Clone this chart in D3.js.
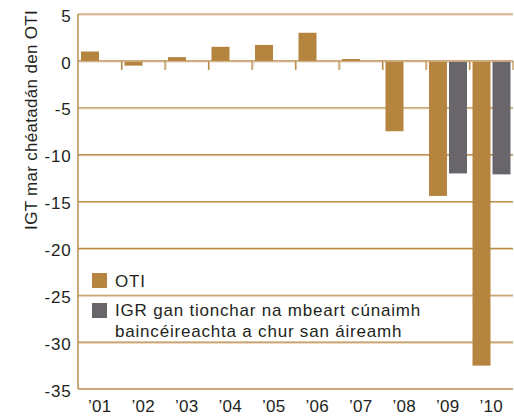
<!DOCTYPE html>
<html><head><meta charset="utf-8">
<script src="https://cdn.jsdelivr.net/npm/d3@7"></script>
<style>body{margin:0;background:#fff}svg{display:block;font-family:"Liberation Sans",Arial,sans-serif}</style>
</head><body><svg id="c" width="514" height="416"></svg>
<script>
const years = ["’01","’02","’03","’04","’05","’06","’07","’08","’09","’10"];
const oti = [1.0,-0.4,0.4,1.5,1.7,3.0,0.2,-7.4,-14.3,-32.4];
const igr = [null,null,null,null,null,null,null,null,-11.9,-12.0];
const yTicks = [5,0,-5,-10,-15,-20,-25,-30,-35];
const seriesNames = ["OTI","IGR gan tionchar na mbeart cúnaimh","baincéireachta a chur san áireamh"];
const colors = {OTI:"#b5853f", IGR:"#68666b"};

(function(){
const svg = d3.select("#c");
const pL = 78, pR = 513, pT = 14, pB = 389;
const x = d3.scaleBand().domain(years).range([pL,pR]).padding(0);
const x1 = d3.scaleBand().domain(["OTI","IGR"]).range([3,41]).paddingInner(0.1).paddingOuter(0);
const y = d3.scaleLinear().domain([-35,5]).range([pB,pT]);
const grid = "#bb8c4c", gridLight = "#dcc6a4", txt = "#231f20";

yTicks.forEach(t=>{
  if(t===-35) return;
  svg.append("line").attr("x1",pL).attr("x2",pR).attr("y1",y(t)+1).attr("y2",y(t)+1).attr("stroke",gridLight).attr("stroke-width",1);
  svg.append("line").attr("x1",pL).attr("x2",pR).attr("y1",y(t)).attr("y2",y(t)).attr("stroke",grid).attr("stroke-width",1.2);
});
svg.append("line").attr("x1",pL).attr("x2",pR).attr("y1",y(-35)).attr("y2",y(-35)).attr("stroke",grid).attr("stroke-width",1.5);
svg.append("line").attr("x1",pL).attr("x2",pL).attr("y1",y(5)).attr("y2",y(-35)).attr("stroke",grid).attr("stroke-width",1.5);
years.forEach((yr,i)=>{
  const xx = x(yr);
  if(i>0){
    svg.append("line").attr("x1",xx+1).attr("x2",xx+1).attr("y1",y(0)).attr("y2",y(0)+9).attr("stroke",gridLight).attr("stroke-width",1);
    svg.append("line").attr("x1",xx).attr("x2",xx).attr("y1",y(0)).attr("y2",y(0)+9).attr("stroke",grid).attr("stroke-width",1.2);
  }
});
svg.append("line").attr("x1",pR).attr("x2",pR).attr("y1",y(0)).attr("y2",y(0)+9).attr("stroke",grid).attr("stroke-width",1.2);

const g = svg.append("g");
years.forEach((yr,i)=>{
  [["OTI",oti[i]],["IGR",igr[i]]].forEach(([k,v])=>{
    if(v===null) return;
    g.append("rect").attr("x",x(yr)+x1(k)).attr("width",x1.bandwidth())
      .attr("y",Math.min(y(v),y(0))+(v<0?1:0)).attr("height",Math.abs(y(v)-y(0)))
      .attr("fill",colors[k]);
  });
});

yTicks.forEach(t=>{
  svg.append("text").attr("x",71.5).attr("y",y(t)).attr("dy","0.45em").attr("text-anchor","end")
    .attr("font-size",17).attr("letter-spacing",0.8).attr("fill",txt).text(t);
});
years.forEach(yr=>{
  svg.append("text").attr("x",x(yr)+x.bandwidth()/2).attr("y",412).attr("text-anchor","middle")
    .attr("font-size",17).attr("letter-spacing",0.3).attr("fill",txt).text(yr);
});
svg.append("text").attr("transform","translate(37,120) rotate(-90)").attr("text-anchor","middle")
  .attr("font-size",17).attr("letter-spacing",0.3).attr("fill",txt).text("IGT mar chéatadán den OTI");

svg.append("rect").attr("x",92).attr("y",273).attr("width",15).attr("height",15).attr("fill",colors.OTI);
svg.append("text").attr("x",115).attr("y",287).attr("font-size",17).attr("letter-spacing",0.8).attr("fill",txt).text(seriesNames[0]);
svg.append("rect").attr("x",92).attr("y",303).attr("width",15).attr("height",15).attr("fill",colors.IGR);
svg.append("text").attr("x",115).attr("y",316).attr("font-size",17).attr("letter-spacing",0.8).attr("fill",txt).text(seriesNames[1]);
svg.append("text").attr("x",115).attr("y",337).attr("font-size",17).attr("letter-spacing",0.8).attr("fill",txt).text(seriesNames[2]);
})();
</script></body></html>
